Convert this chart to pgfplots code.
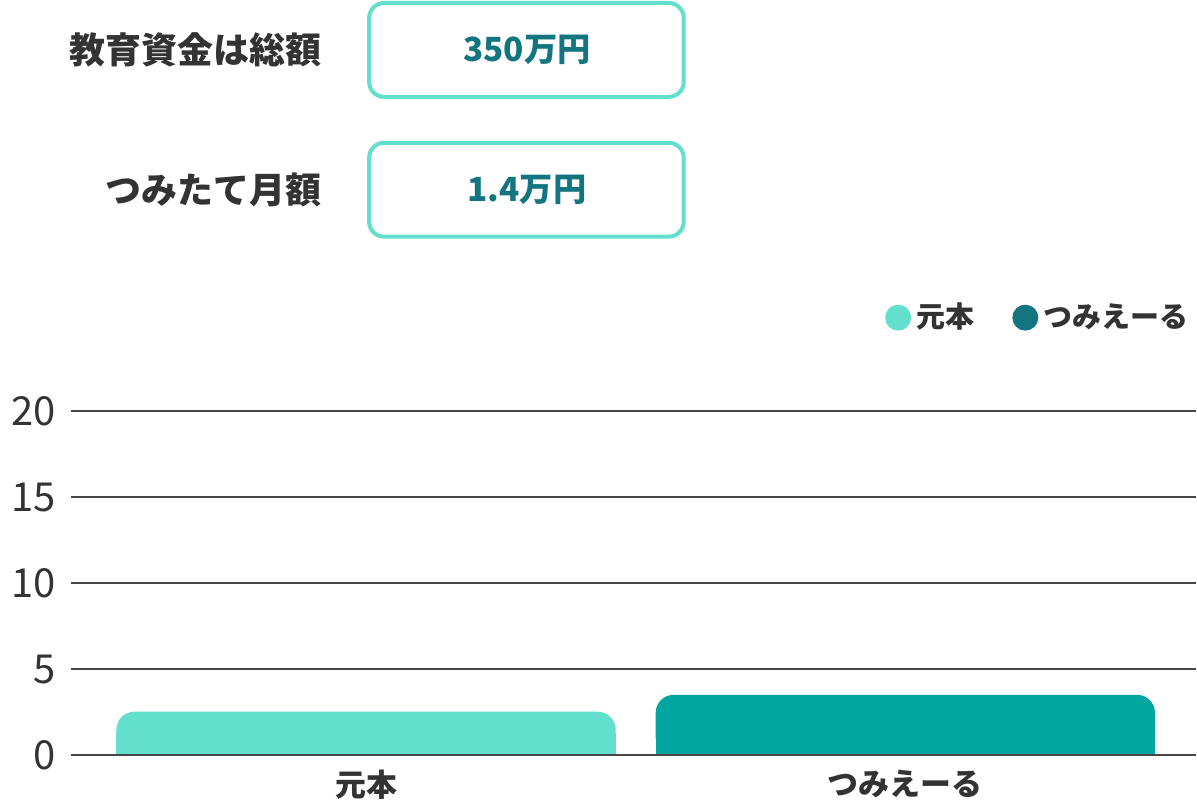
\documentclass[border=0pt]{standalone}
\usepackage{fontspec}
\setmainfont{Noto Sans CJK JP}
\usepackage{pgfplots}
\pgfplotsset{compat=1.18}

\definecolor{mint}{HTML}{62DFCD}
\definecolor{teal1}{HTML}{02A6A0}
\definecolor{tealdark}{HTML}{137580}
\definecolor{txt}{HTML}{333333}

\begin{document}
\begin{tikzpicture}[x=0.3pt,y=0.3pt]
\path (0,0) rectangle (1197,804);

% summary boxes
\node[anchor=east, font=\fontsize{10.8}{12}\selectfont\bfseries, text=txt, inner sep=0pt] at (322,754) {教育資金は総額};
\draw[mint, line width=1.2pt, rounded corners=4.5pt] (369,801) rectangle (684,707);
\node[font=\fontsize{10}{12}\selectfont\bfseries, text=tealdark] at (527,754) {350万円};

\node[anchor=east, font=\fontsize{10.8}{12}\selectfont\bfseries, text=txt, inner sep=0pt] at (322,614) {つみたて月額};
\draw[mint, line width=1.2pt, rounded corners=4.5pt] (369,661) rectangle (684,567);
\node[font=\fontsize{10}{12}\selectfont\bfseries, text=tealdark] at (527,614) {1.4万円};

\begin{axis}[
  at={(21pt,14.4pt)}, anchor=south west,
  scale only axis, width=338.1pt, height=103.2pt,
  xmin=-0.548, xmax=1.539, ymin=0, ymax=20,
  xtick={0,1}, xticklabels={元本, つみえーる},
  ytick={0,5,10,15,20},
  major tick length=0pt,
  axis line style={draw=none},
  ymajorgrids, axis on top,
  major grid style={line width=0.6pt, color=black!72},
  /pgf/number format/assume math mode=true,
  yticklabel style={font=\fontsize{12}{14}\selectfont, text=txt, xshift=-1pt},
  xticklabel style={font=\fontsize{9.3}{11}\selectfont\bfseries, text=txt, yshift=-1pt},
  ybar, bar width=0.926, bar shift=0pt,
  legend style={at={(0.998,1.273)}, anchor=east, draw=none, fill=none, inner sep=0pt,
    font=\fontsize{8.7}{10}\selectfont\bfseries, text=txt,
    legend columns=2, nodes={inner sep=1.5pt},
    /tikz/every even column/.append style={column sep=10pt}},
  legend image code/.code={\fill[#1] (0pt,0pt) circle (3.9pt);},
]
\addlegendimage{fill=mint, draw=none}
\addlegendentry{元本}
\addlegendimage{fill=tealdark, draw=none}
\addlegendentry{つみえーる}

% bars with rounded tops; the lower half is redrawn square
\addplot[fill=mint, draw=none, rounded corners=5.4pt, forget plot] coordinates {(0,2.52)};
\addplot[fill=mint, draw=none, forget plot, y filter/.expression={y/2}] coordinates {(0,2.52)};
\addplot[fill=teal1, draw=none, rounded corners=5.4pt, forget plot] coordinates {(1,3.50)};
\addplot[fill=teal1, draw=none, forget plot, y filter/.expression={y/2}] coordinates {(1,3.50)};
\end{axis}
\end{tikzpicture}
\end{document}
